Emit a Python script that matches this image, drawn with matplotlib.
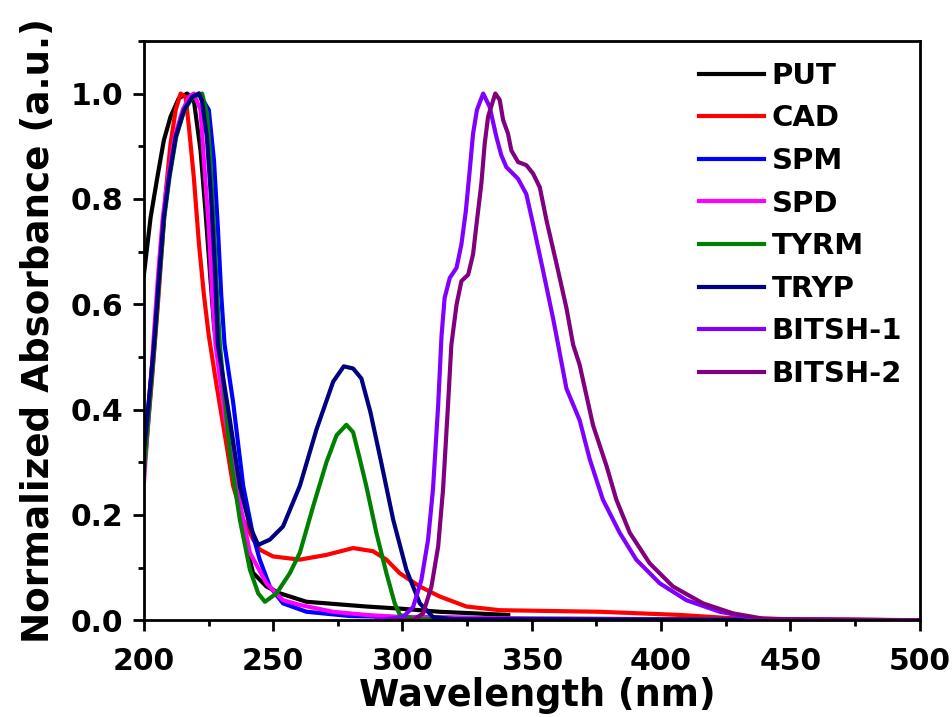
import matplotlib
matplotlib.use("Agg")
import matplotlib.pyplot as plt
from matplotlib.ticker import MultipleLocator

plt.rcParams['font.family'] = ['DejaVu Sans']
plt.rcParams['font.weight'] = 'bold'

# wavelength (nm) / normalized absorbance
put_x = [200, 202.6, 205.2, 207.7, 210.3, 213.5, 216.7, 219.3, 221.9, 223.8, 225.7, 227.1,
         231.9, 235.8, 239.7, 242.2, 247.4, 252.6, 262.9, 286, 299, 314.4, 340.9]
put_y = [0.656, 0.765, 0.841, 0.911, 0.956, 0.991, 1.0, 0.988, 0.892, 0.777, 0.650, 0.560,
         0.382, 0.255, 0.140, 0.090, 0.064, 0.051, 0.035, 0.026, 0.022, 0.016, 0.010]

cad_x = [200, 203, 205.2, 207.1, 208.4, 210.3, 212.3, 214.2, 216.1, 217.4, 219.3, 221.3,
         223.2, 225.1, 228.1, 232, 234.5, 238.4, 242.3, 244.8, 250, 260.3, 270.6, 280.9,
         288.6, 293.8, 299, 306.7, 314.4, 324.7, 337.6, 376.3, 407.2, 426.5, 450, 500]
cad_y = [0.28, 0.45, 0.586, 0.714, 0.810, 0.905, 0.969, 1.0, 0.994, 0.937, 0.841, 0.714,
         0.618, 0.540, 0.446, 0.331, 0.255, 0.191, 0.153, 0.134, 0.121, 0.115, 0.124, 0.137,
         0.131, 0.115, 0.089, 0.064, 0.045, 0.026, 0.019, 0.016, 0.010, 0.004, 0.002, 0.0]

spm_x = [200, 202, 203.9, 205.8, 207.7, 209.7, 212.3, 215.5, 218.7, 221.3, 225.1, 227.1,
         228.6, 229.9, 231.2, 234.5, 238.4, 242.3, 244.8, 248.7, 253.8, 262.9, 279.6, 299, 350, 500]
spm_y = [0.32, 0.42, 0.523, 0.650, 0.765, 0.841, 0.918, 0.969, 0.994, 1.0, 0.969, 0.873,
         0.745, 0.618, 0.523, 0.414, 0.255, 0.159, 0.115, 0.064, 0.032, 0.016, 0.008, 0.006, 0.003, 0.0]

spd_x = [200, 202, 203.6, 205.4, 207.3, 209.3, 211.9, 215, 217.5, 219.3, 221.9, 223.2,
         225.1, 226.4, 227.7, 231.5, 237.1, 241, 247.4, 253.8, 260.3, 273.2, 286, 299, 350, 500]
spd_y = [0.26, 0.40, 0.523, 0.650, 0.765, 0.841, 0.918, 0.969, 0.994, 1.0, 0.969, 0.873,
         0.745, 0.618, 0.523, 0.380, 0.223, 0.128, 0.070, 0.038, 0.029, 0.016, 0.010, 0.006, 0.003, 0.0]

tyrm_x = [200, 202, 204.1, 206, 207.9, 209.9, 212.5, 215.7, 219, 222.5, 224.4, 225.7,
          227.1, 228.3, 229.4, 233.2, 237.1, 241, 244.2, 246.8, 251.3, 256.4, 260.3, 265.5,
          270.6, 274.5, 278.3, 280.9, 283.5, 286, 289.9, 293.8, 297, 299, 305, 500]
tyrm_y = [0.28, 0.40, 0.523, 0.650, 0.765, 0.841, 0.918, 0.969, 0.994, 1.0, 0.962, 0.873,
          0.745, 0.618, 0.523, 0.319, 0.191, 0.096, 0.051, 0.035, 0.051, 0.089, 0.128, 0.217,
          0.300, 0.351, 0.371, 0.357, 0.306, 0.255, 0.166, 0.089, 0.032, 0.010, 0.002, 0.0]

tryp_x = [200, 202, 203.9, 205.8, 207.7, 209.7, 212.3, 215.5, 218.7, 221.3, 222.5, 224.3,
          226, 227.5, 228.6, 233.2, 237.1, 241, 244.2, 248.7, 253.8, 260.3, 266.8, 273.2,
          277.3, 280.9, 284.1, 287.6, 291.5, 296.4, 301.5, 306.7, 311.8, 320, 500]
tryp_y = [0.32, 0.42, 0.523, 0.650, 0.765, 0.841, 0.918, 0.969, 0.994, 1.0, 0.985, 0.920,
          0.800, 0.660, 0.523, 0.382, 0.255, 0.178, 0.143, 0.153, 0.178, 0.255, 0.363, 0.453,
          0.482, 0.478, 0.459, 0.395, 0.306, 0.191, 0.096, 0.032, 0.006, 0.002, 0.0]

bitsh1_x = [290, 300.2, 304.1, 307.3, 309.9, 311.8, 313.8, 315.1, 316.3, 318.3, 320.9, 322.8,
            324.5, 326, 327.3, 328.8, 331.2, 333.7, 336.3, 338.2, 340.2, 342.7, 344.7, 347.9,
            350.5, 354.4, 358.2, 360.2, 363.4, 368.5, 372.4, 377.5, 384, 390.4, 399.5, 409.8,
            422.7, 436.8, 450, 500]
bitsh1_y = [0.0, 0.006, 0.025, 0.076, 0.153, 0.249, 0.408, 0.540, 0.612, 0.650, 0.669, 0.714,
            0.777, 0.854, 0.924, 0.969, 1.0, 0.975, 0.918, 0.883, 0.860, 0.848, 0.838, 0.809,
            0.752, 0.663, 0.574, 0.523, 0.440, 0.380, 0.306, 0.229, 0.166, 0.115, 0.070, 0.038,
            0.016, 0.003, 0.001, 0.0]

bitsh2_x = [295, 304.1, 308, 311.2, 313.8, 315.7, 317.6, 318.9, 320.9, 322.8, 325.4, 327.3,
            328.8, 330.5, 331.8, 333.1, 335.9, 337.6, 338.9, 340.8, 342.1, 344.7, 347.9, 350.5,
            353.1, 355.7, 359.6, 363.4, 366, 368.5, 373.7, 378.9, 382.7, 387.9, 395.6, 404.6,
            416.2, 427.8, 439.4, 455, 500]
bitsh2_y = [0.0, 0.0, 0.013, 0.064, 0.140, 0.249, 0.408, 0.523, 0.599, 0.644, 0.656, 0.695,
            0.759, 0.829, 0.905, 0.956, 1.0, 0.988, 0.950, 0.924, 0.892, 0.870, 0.864, 0.848,
            0.822, 0.759, 0.676, 0.593, 0.523, 0.485, 0.370, 0.293, 0.229, 0.166, 0.108, 0.064,
            0.032, 0.013, 0.003, 0.001, 0.0]

series = [
    ("PUT", put_x, put_y, "black"),
    ("CAD", cad_x, cad_y, "#ff0000"),
    ("SPM", spm_x, spm_y, "#0000ff"),
    ("SPD", spd_x, spd_y, "#ff00ff"),
    ("TYRM", tyrm_x, tyrm_y, "#008000"),
    ("TRYP", tryp_x, tryp_y, "#000080"),
    ("BITSH-1", bitsh1_x, bitsh1_y, "#8000ff"),
    ("BITSH-2", bitsh2_x, bitsh2_y, "#800080"),
]

fig = plt.figure(figsize=(9.53, 7.17), dpi=100)
ax = fig.add_axes([0.151, 0.135, 0.814, 0.808])

for name, xs, ys, col in series:
    ax.plot(xs, ys, color=col, lw=3, label=name)

ax.set_xlim(200, 500)
ax.set_ylim(0, 1.1)
ax.xaxis.set_major_locator(MultipleLocator(50))
ax.xaxis.set_minor_locator(MultipleLocator(25))
ax.yaxis.set_minor_locator(MultipleLocator(0.1))
ax.set_yticks([0.0, 0.2, 0.4, 0.6, 0.8, 1.0])
ax.set_yticklabels(["0.0", "0.2", "0.4", "0.6", "0.8", "1.0"])

for s in ax.spines.values():
    s.set_linewidth(2)
ax.tick_params(which='major', direction='out', length=8, width=2, labelsize=21.5)
ax.tick_params(which='minor', direction='out', length=4.5, width=2)
ax.tick_params(axis='x', which='major', pad=11)
ax.tick_params(axis='y', which='major', pad=7)

ax.set_xlabel("Wavelength (nm)", fontsize=26.4, fontweight='bold')
ax.xaxis.set_label_coords(0.507, -0.0984)
ax.set_ylabel("Normalized Absorbance (a.u.)", fontsize=26.8, fontweight='bold')
ax.yaxis.set_label_coords(-0.1115, 0.5)

leg = ax.legend(loc='upper left', bbox_to_anchor=(0.701, 0.984), borderaxespad=0,
                frameon=False, fontsize=21, handlelength=2.2,
                labelspacing=0.5, handletextpad=0.27)
for t in leg.get_texts():
    t.set_fontweight('bold')

fig.savefig("out.png", dpi=100)
